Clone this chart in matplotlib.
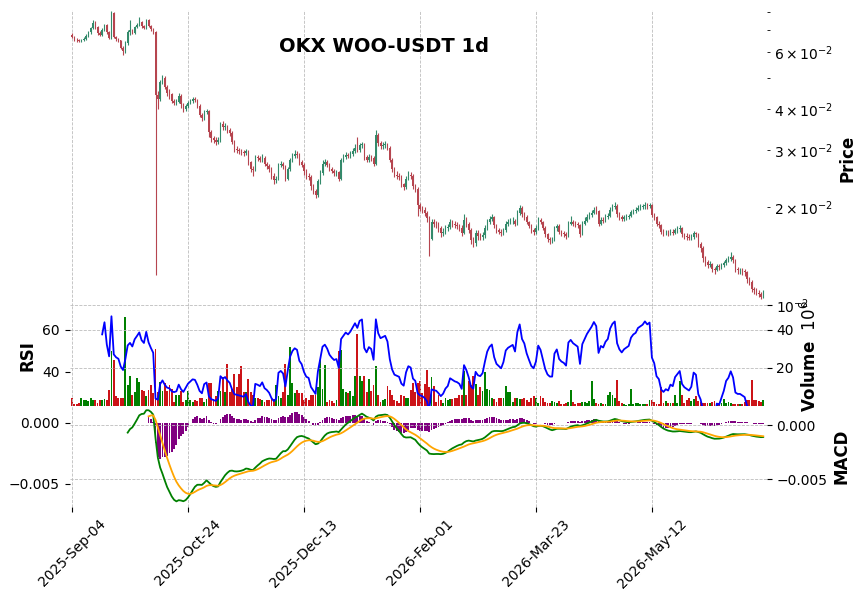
import numpy as np
import pandas as pd
import matplotlib
matplotlib.use("Agg")
import matplotlib.pyplot as plt
from matplotlib.ticker import FixedLocator

# ---------------- data ----------------
start_date = "2025-09-04"
first_open = 0.0680
close = [
0.0670,0.0655,0.0652,0.0650,0.0652,0.0660,0.0675,0.0690,0.0710,0.0740,
0.0715,0.0685,0.0680,0.0700,0.0728,0.0690,0.0665,0.0790,0.0670,0.0658,
0.0652,0.0620,0.0605,0.0640,0.0690,0.0700,0.0688,0.0715,0.0728,0.0742,
0.0720,0.0712,0.0752,0.0722,0.0705,0.0690,0.0442,0.0430,0.0486,0.0500,
0.0470,0.0450,0.0445,0.0425,0.0420,0.0422,0.0440,0.0415,0.0400,0.0410,
0.0420,0.0425,0.0430,0.0428,0.0410,0.0385,0.0375,0.0392,0.0395,0.0340,
0.0326,0.0322,0.0318,0.0322,0.0360,0.0352,0.0355,0.0345,0.0338,0.0318,
0.0302,0.0300,0.0298,0.0296,0.0294,0.0297,0.0275,0.0262,0.0260,0.0285,
0.0283,0.0280,0.0284,0.0272,0.0268,0.0262,0.0250,0.0243,0.0245,0.0270,
0.0272,0.0268,0.0245,0.0262,0.0280,0.0288,0.0292,0.0290,0.0275,0.0270,
0.0258,0.0250,0.0248,0.0232,0.0225,0.0218,0.0240,0.0255,0.0272,0.0275,
0.0270,0.0262,0.0258,0.0255,0.0256,0.0245,0.0280,0.0285,0.0290,0.0288,
0.0292,0.0298,0.0304,0.0300,0.0310,0.0312,0.0285,0.0280,0.0286,0.0284,
0.0272,0.0333,0.0315,0.0308,0.0310,0.0312,0.0305,0.0280,0.0262,0.0252,
0.0250,0.0248,0.0235,0.0231,0.0245,0.0252,0.0250,0.0232,0.0228,0.0203,
0.0198,0.0196,0.0192,0.0185,0.0160,0.0180,0.0178,0.0177,0.0172,0.0166,
0.0168,0.0172,0.0174,0.0180,0.0178,0.0176,0.0175,0.0173,0.0167,0.0183,
0.0178,0.0170,0.0158,0.0155,0.0167,0.0163,0.0162,0.0164,0.0172,0.0180,
0.0184,0.0186,0.0176,0.0170,0.0168,0.0166,0.0170,0.0178,0.0180,0.0181,
0.0182,0.0178,0.0192,0.0199,0.0190,0.0187,0.0180,0.0175,0.0170,0.0168,
0.0172,0.0183,0.0180,0.0173,0.0165,0.0160,0.0158,0.0158,0.0172,0.0175,
0.0168,0.0166,0.0165,0.0163,0.0178,0.0180,0.0178,0.0177,0.0176,0.0165,
0.0178,0.0182,0.0186,0.0189,0.0192,0.0196,0.0194,0.0178,0.0183,0.0182,
0.0186,0.0188,0.0196,0.0200,0.0202,0.0190,0.0186,0.0184,0.0186,0.0187,
0.0188,0.0193,0.0195,0.0196,0.0199,0.0200,0.0201,0.0203,0.0202,0.0203,
0.0189,0.0186,0.0178,0.0176,0.0168,0.0166,0.0167,0.0166,0.0168,0.0167,
0.0170,0.0171,0.0172,0.0165,0.0163,0.0162,0.0161,0.0162,0.0166,0.0165,
0.0154,0.0150,0.0140,0.0136,0.0133,0.0134,0.0129,0.0128,0.0132,0.0131,
0.0133,0.0135,0.0138,0.0139,0.0141,0.0138,0.0129,0.0128,0.0128,0.0127,
0.0126,0.0120,0.0118,0.0112,0.0111,0.0109,0.0108,0.0106,0.0108]

high = [
.0688,.0674,.0662,.0658,.0660,.0668,.0682,.0698,.0718,.0752,
.0748,.0720,.0695,.0710,.0735,.0732,.0695,.0805,.0798,.0675,
.0664,.0655,.0625,.0648,.0700,.0753,.0705,.0722,.0738,.0770,
.0750,.0728,.0760,.0758,.0728,.0712,.0695,.0455,.0492,.0510,
.0505,.0475,.0462,.0450,.0432,.0430,.0448,.0445,.0420,.0416,
.0426,.0432,.0438,.0436,.0432,.0415,.0390,.0398,.0402,.0398,
.0345,.0332,.0328,.0328,.0366,.0368,.0362,.0358,.0350,.0342,
.0322,.0308,.0305,.0303,.0300,.0302,.0300,.0278,.0268,.0290,
.0290,.0288,.0292,.0288,.0276,.0272,.0266,.0254,.0250,.0274,
.0278,.0276,.0270,.0266,.0284,.0294,.0300,.0297,.0293,.0280,
.0274,.0262,.0255,.0252,.0236,.0228,.0244,.0260,.0280,.0282,
.0280,.0274,.0266,.0262,.0260,.0258,.0284,.0292,.0296,.0294,
.0298,.0305,.0312,.0330,.0316,.0318,.0315,.0290,.0292,.0290,
.0288,.0345,.0338,.0320,.0318,.0320,.0316,.0308,.0284,.0266,
.0258,.0254,.0252,.0238,.0250,.0258,.0256,.0253,.0236,.0230,
.0206,.0202,.0200,.0195,.0188,.0184,.0184,.0182,.0180,.0175,
.0172,.0176,.0178,.0184,.0183,.0181,.0180,.0178,.0176,.0190,
.0186,.0180,.0172,.0162,.0170,.0170,.0167,.0168,.0176,.0184,
.0188,.0190,.0188,.0178,.0173,.0171,.0173,.0181,.0184,.0185,
.0186,.0184,.0196,.0203,.0201,.0193,.0189,.0182,.0177,.0173,
.0176,.0186,.0185,.0182,.0175,.0167,.0162,.0162,.0175,.0178,
.0177,.0170,.0169,.0168,.0182,.0188,.0183,.0181,.0180,.0178,
.0181,.0186,.0190,.0193,.0196,.0200,.0201,.0196,.0186,.0186,
.0190,.0192,.0200,.0204,.0208,.0204,.0193,.0189,.0189,.0190,
.0191,.0196,.0198,.0200,.0203,.0204,.0205,.0207,.0206,.0206,
.0205,.0192,.0188,.0181,.0178,.0171,.0170,.0170,.0171,.0171,
.0173,.0175,.0176,.0174,.0167,.0166,.0165,.0165,.0169,.0168,
.0167,.0156,.0152,.0142,.0138,.0137,.0135,.0131,.0134,.0134,
.0135,.0137,.0140,.0142,.0146,.0143,.0139,.0131,.0130,.0130,
.0129,.0127,.0122,.0119,.0114,.0113,.0111,.0110,.0111]

low = [
.0662,.0650,.0646,.0644,.0645,.0648,.0655,.0670,.0684,.0705,
.0708,.0678,.0672,.0675,.0695,.0682,.0658,.0660,.0662,.0650,
.0645,.0612,.0588,.0598,.0632,.0680,.0682,.0684,.0710,.0720,
.0712,.0705,.0708,.0715,.0698,.0682,.0124,.0400,.0425,.0480,
.0462,.0440,.0430,.0418,.0414,.0412,.0418,.0405,.0392,.0396,
.0405,.0415,.0420,.0422,.0404,.0378,.0368,.0370,.0386,.0330,
.0318,.0316,.0310,.0312,.0318,.0346,.0346,.0338,.0332,.0312,
.0296,.0294,.0292,.0290,.0288,.0289,.0270,.0256,.0250,.0258,
.0278,.0275,.0276,.0268,.0262,.0256,.0245,.0236,.0238,.0242,
.0265,.0262,.0240,.0242,.0258,.0276,.0284,.0284,.0270,.0265,
.0252,.0245,.0242,.0226,.0220,.0213,.0215,.0236,.0252,.0268,
.0265,.0258,.0254,.0250,.0250,.0240,.0243,.0276,.0282,.0283,
.0284,.0288,.0294,.0296,.0296,.0305,.0280,.0275,.0276,.0278,
.0268,.0270,.0308,.0302,.0303,.0305,.0300,.0275,.0256,.0247,
.0245,.0243,.0230,.0226,.0228,.0242,.0245,.0228,.0222,.0188,
.0194,.0192,.0188,.0180,.0142,.0158,.0174,.0172,.0168,.0162,
.0163,.0165,.0169,.0171,.0174,.0172,.0171,.0169,.0163,.0165,
.0174,.0166,.0154,.0151,.0152,.0159,.0158,.0159,.0161,.0170,
.0177,.0181,.0173,.0167,.0165,.0163,.0164,.0168,.0175,.0177,
.0178,.0175,.0176,.0189,.0187,.0183,.0177,.0172,.0167,.0164,
.0165,.0170,.0177,.0170,.0162,.0156,.0154,.0155,.0157,.0169,
.0165,.0163,.0162,.0160,.0162,.0176,.0175,.0174,.0173,.0162,
.0164,.0176,.0180,.0184,.0187,.0190,.0190,.0175,.0176,.0179,
.0180,.0184,.0186,.0194,.0197,.0187,.0183,.0181,.0182,.0183,
.0184,.0186,.0190,.0192,.0194,.0196,.0197,.0198,.0198,.0199,
.0186,.0183,.0175,.0172,.0165,.0163,.0164,.0163,.0164,.0164,
.0165,.0167,.0168,.0162,.0160,.0159,.0158,.0158,.0160,.0162,
.0151,.0146,.0136,.0132,.0130,.0131,.0126,.0125,.0127,.0128,
.0129,.0131,.0133,.0136,.0137,.0135,.0126,.0125,.0125,.0124,
.0123,.0117,.0115,.0110,.0108,.0107,.0106,.0104,.0105]

volume_millions = [
4.2,1.0,0.8,1.5,4.0,3.0,3.0,2.5,4.0,3.0,
3.0,1.5,3.0,3.0,3.5,3.0,8.5,29,24,5.0,
4.0,4.0,4.0,47,11,16,6.0,7.5,14.5,12.5,
8.5,8.0,5.0,8.5,11,7.0,30,7.5,12.5,8.0,
12,8.0,11,9.0,2.0,6.0,6.0,8.0,2.0,3.0,
8.0,3.0,2.0,3.0,2.5,4.4,4.0,2.0,3.5,12,
12,3.5,5.5,8.0,8.0,15,7.5,22,7.5,9.0,
17,10,17,21,7.5,7.5,14,7.5,6.0,4.4,
4.4,3.5,3.0,2.3,3.0,3.0,3.7,3.7,11,5.5,
4.0,7.5,22,6.0,31,12,6.7,8.4,6.7,6.7,
3.0,4.0,3.0,6.0,6.0,6.0,10,24,9.0,21.5,
2.0,3.0,2.5,1.5,3.0,29,29.5,9.0,7.5,6.7,
8.0,5.0,16,38,16,13,16,7.5,14,8.0,
11,21,6.0,2.3,3.0,3.5,10.5,8.4,6.0,3.0,
2.6,1.8,6.0,5.0,4.0,4.0,8.4,12,7.5,12,
13,6.7,11.4,19,10,15,10.5,2.3,6.0,3.0,
1.8,4.0,3.0,3.5,3.5,4.0,4.0,6.0,6.0,18.4,
6.0,13,11,16,11.4,6.0,10,8.0,18,8.8,
8.4,4.4,3.5,2.0,4.0,4.0,4.0,10.5,7.5,7.2,
2.3,4.4,4.0,3.5,3.5,4.0,3.0,2.3,4.0,5.3,
4.0,1.4,5.3,4.0,2.3,1.8,1.8,2.6,2.3,1.4,
2.6,1.0,1.2,1.5,2.0,8.4,2.3,1.2,1.5,1.5,
2.0,2.0,1.5,2.5,13,3.5,1.5,1.2,1.5,0.8,
1.0,6.0,7.2,5.8,4.0,13.7,2.6,1.5,1.2,0.7,
0.8,9.0,1.2,1.5,1.4,1.0,0.8,0.8,0.9,3.2,
3.2,2.0,1.0,0.8,10,1.5,2.8,1.4,1.4,1.5,
5.8,1.4,13,5.8,1.4,3.2,4.0,2.6,3.5,5.0,
2.6,2.3,1.4,1.8,1.8,1.4,2.3,2.6,1.8,1.4,
1.8,3.7,1.4,2.3,1.8,1.0,0.8,1.0,0.8,0.8,
2.3,3.2,3.2,13.7,3.2,3.2,2.6,2.3,3.2]

title = "OKX WOO-USDT 1d"
xtick_every = 50
rsi_period = 14

# ---------------- prepare ----------------
n = min(len(close), len(high), len(low), len(volume_millions))
c = np.array(close[:n], dtype=float)
o = np.concatenate([[first_open], c[:-1]])
h = np.maximum(np.array(high[:n]), np.maximum(o, c))
l = np.minimum(np.array(low[:n]), np.minimum(o, c))
v = np.array(volume_millions[:n], dtype=float)
dates = pd.date_range(start_date, periods=n, freq="D")
x = np.arange(n)
up = c >= o

# Wilder RSI (seeded with simple mean)
dlt = np.diff(c, prepend=c[0])
g = np.clip(dlt, 0, None)
ls = np.clip(-dlt, 0, None)
rsi = np.full(n, np.nan)
p = rsi_period
ag = g[:p].mean()
al = ls[:p].mean()
rsi[p-1] = 100 - 100 / (1 + ag / al)
for i in range(p, n):
    ag = (ag * (p - 1) + g[i]) / p
    al = (al * (p - 1) + ls[i]) / p
    rsi[i] = 100 - 100 / (1 + ag / al)

s = pd.Series(c)
ema12 = s.ewm(span=12, adjust=False).mean()
ema26 = s.ewm(span=26, adjust=False).mean()
macd = (ema12 - ema26).to_numpy()
signal = pd.Series(macd).ewm(span=9, adjust=False).mean().to_numpy()
hist = macd - signal
macd_p = macd.copy(); macd_p[:24] = np.nan
sig_p = signal.copy(); sig_p[:33] = np.nan
hist_p = hist.copy(); hist_p[:33] = np.nan

# ---------------- figure ----------------
W, H = 865, 600
fig = plt.figure(figsize=(W/100, H/100), dpi=100)
L = 69.7 / W
AW = 697 / W
ax_p = fig.add_axes([L, (H-306)/H, AW, 296/H])
ax_v = fig.add_axes([L, (H-406)/H, AW, 100/H], sharex=ax_p)
ax_h = fig.add_axes([L, (H-507)/H, AW, 101/H], sharex=ax_p)

grid_kw = dict(linestyle="--", color="#bdbdbd", linewidth=0.6)
up_c, dn_c = "#338a6b", "#b6454f"

# price
cols = np.where(up, up_c, dn_c)
ax_p.vlines(x, l, h, colors=cols, linewidth=0.8)
ax_p.bar(x, np.abs(c - o), bottom=np.minimum(o, c), width=0.6, color=cols, linewidth=0)
ax_p.set_yscale("log")
ax_p.set_ylim(0.00993, 0.0809)
ax_p.set_xlim(-1.0, n + 0.5)
ax_p.yaxis.tick_right()
ax_p.yaxis.set_label_position("right")
ax_p.set_ylabel("Price", fontsize=12, fontweight="bold")
ax_p.grid(True, which="major", **grid_kw)
ax_p.tick_params(axis="x", which="both", bottom=False, labelbottom=False)

# volume + rsi
vcols = np.where(up, "#008000", "#cc1418")
ax_v.bar(x, v, width=0.8, color=vcols, linewidth=0)
ax_v.set_ylim(0, 52.6)
ax_v.grid(True, **grid_kw)
ax_v.tick_params(axis="x", which="both", bottom=False, labelbottom=False)

ax_r = ax_v.twinx()
ax_r.plot(x, rsi, color="blue", linewidth=1.3)
ax_r.set_ylim(23.8, 71.4)
ax_r.yaxis.set_major_locator(FixedLocator([40, 60]))
ax_r.yaxis.tick_left()
ax_r.yaxis.set_label_position("left")
ax_r.set_ylabel("RSI", fontsize=12, fontweight="bold")
ax_r.tick_params(axis="x", which="both", bottom=False, labelbottom=False)

ax_v.yaxis.set_major_locator(FixedLocator([20, 40]))
ax_v.yaxis.tick_right()
ax_v.yaxis.set_label_position("right")
ax_v.set_ylabel("Volume  $10^{6}$", fontsize=12, fontweight="bold")

# macd
ax_h.bar(x, hist_p, width=0.8, color="purple", linewidth=0)
ax_h.set_ylim(-0.00688, 0.00136)
ax_h.grid(True, axis="x", **grid_kw)

ax_l = ax_h.twinx()
ax_l.plot(x, macd_p, color="green", linewidth=1.3)
ax_l.plot(x, sig_p, color="orange", linewidth=1.3)
ax_l.set_ylim(-0.00759, 0.00176)
ax_l.yaxis.set_major_locator(FixedLocator([-0.005, 0.0]))
ax_l.yaxis.tick_right()
ax_l.yaxis.set_label_position("right")
ax_l.set_ylabel("MACD", fontsize=12, fontweight="bold")
ax_l.grid(True, axis="y", **grid_kw)

ax_h.yaxis.set_major_locator(FixedLocator([-0.005, 0.0]))
ax_h.yaxis.tick_left()

ticks = list(range(0, n, xtick_every))
ax_h.set_xticks(ticks)
ax_h.set_xticklabels([dates[i].strftime("%Y-%b-%d") for i in ticks],
                     rotation=45, ha="center", fontsize=10)

for ax in (ax_p, ax_v, ax_r, ax_h, ax_l):
    for sp in ax.spines.values():
        sp.set_visible(False)

fig.text(384/W, 1-47/H, title, ha="center", va="center",
         fontsize=14, fontweight="bold")

fig.savefig("out.png", dpi=100, facecolor="white")
